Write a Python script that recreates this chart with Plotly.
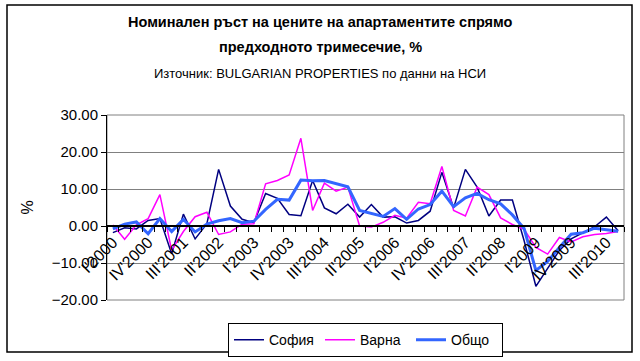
import plotly.graph_objects as go

quarters = [
    "I'2000", "II'2000", "III'2000", "IV'2000",
    "I'2001", "II'2001", "III'2001", "IV'2001",
    "I'2002", "II'2002", "III'2002", "IV'2002",
    "I'2003", "II'2003", "III'2003", "IV'2003",
    "I'2004", "II'2004", "III'2004", "IV'2004",
    "I'2005", "II'2005", "III'2005", "IV'2005",
    "I'2006", "II'2006", "III'2006", "IV'2006",
    "I'2007", "II'2007", "III'2007", "IV'2007",
    "I'2008", "II'2008", "III'2008", "IV'2008",
    "I'2009", "II'2009", "III'2009", "IV'2009",
    "I'2010", "II'2010", "III'2010", "IV'2010",
]
tick_labels = ["I'2000", "IV'2000", "III'2001", "II'2002", "I'2003", "IV'2003",
               "III'2004", "II'2005", "I'2006", "IV'2006", "III'2007", "II'2008",
               "I'2009", "IV'2009", "III'2010"]

sofia = [-1.8, -0.5, -0.8, 1.5, 2.0, -7.5, 3.2, -3.5, 0.6, 15.3, 5.4, 1.8, 0.9,
         8.8, 7.5, 3.1, 2.8, 12.3, 4.9, 3.3, 5.9, 2.4, 5.8, 2.4, 2.5, 0.8, 1.5,
         4.0, 14.5, 4.9, 15.3, 10.5, 2.7, 7.0, 7.0, -4.0, -16.3, -11.5, -6.6,
         -3.5, -1.8, -0.2, 2.4, -1.3]
varna = [0.3, -3.6, 0.3, 2.0, 8.5, -6.5, -1.5, 2.5, 3.7, -2.3, -1.6, 0.5, 0.6,
         11.4, 12.3, 13.8, 23.7, 4.2, 11.6, 9.4, 10.5, 0.0, -0.3, 1.0, 2.9, 2.1,
         6.4, 6.0, 16.1, 4.2, 2.7, 10.5, 8.5, 2.2, 0.4, -0.9, -5.8, -7.6, -3.1,
         -4.3, -2.9, -2.3, -2.0, -1.5]
total = [-0.8, 0.5, 1.1, -2.1, 2.0, -1.5, 1.8, -1.6, 0.5, 1.4, 2.0, 0.9, 1.3,
         4.5, 7.2, 7.0, 12.4, 12.2, 12.3, 11.5, 10.6, 4.2, 3.3, 2.6, 4.7, 1.8,
         4.6, 5.8, 9.4, 5.2, 7.6, 8.8, 7.1, 6.0, 3.0, -0.7, -12.0, -9.6, -5.8,
         -2.2, -1.8, -0.6, -1.0, -1.4]

FONT = "Liberation Sans, Arial, sans-serif"

fig = go.Figure()
fig.add_trace(go.Scatter(x=quarters, y=sofia, name="София", mode="lines",
                         line=dict(color="#000080", width=1.5)))
fig.add_trace(go.Scatter(x=quarters, y=varna, name="Варна", mode="lines",
                         line=dict(color="#FF00FF", width=1.5)))
fig.add_trace(go.Scatter(x=quarters, y=total, name="Общо", mode="lines",
                         line=dict(color="#3366FF", width=3)))

ticktext = [q if q in tick_labels else "" for q in quarters]

L, R, T, B = 107, 16, 115, 61
W, H = 640, 361
pw, ph = W - L - R, H - T - B

fig.update_layout(
    width=W, height=H,
    margin=dict(l=L, r=R, t=T, b=B, autoexpand=False),
    paper_bgcolor="white", plot_bgcolor="white",
    font=dict(family=FONT, size=13, color="black"),
    showlegend=True,
    legend=dict(orientation="h", x=0.5, xanchor="center", y=-0.125, yanchor="top",
                bordercolor="black", borderwidth=1, bgcolor="white",
                font=dict(family=FONT, size=14), itemwidth=30, tracegroupgap=0,
                entrywidth=46),
    xaxis=dict(
        type="category", categoryorder="array", categoryarray=quarters,
        tickmode="array", tickvals=quarters, ticktext=ticktext,
        tickangle=-45, tickfont=dict(family=FONT, size=16),
        ticks="outside", tickson="boundaries", ticklen=5, tickcolor="black",
        showline=True, linecolor="black", linewidth=1.5,
        showgrid=False, zeroline=False, automargin=False,
        anchor="free", position=0.4,
        range=[-0.5, len(quarters) - 0.5],
    ),
    yaxis=dict(
        range=[-20, 30], dtick=10, tick0=0, tickformat=".2f",
        tickfont=dict(family=FONT, size=15),
        ticks="outside", ticklen=5, tickcolor="black",
        showline=True, linecolor="black", linewidth=1,
        showgrid=True, gridcolor="#808080", gridwidth=1,
        zeroline=False, automargin=False,
        title=dict(text="%", font=dict(family=FONT, size=16), standoff=14),
        domain=[0, 1],
    ),
    shapes=[
        dict(type="rect", xref="paper", yref="paper", x0=0, x1=1, y0=0, y1=1,
             line=dict(color="#808080", width=1), layer="below"),
        dict(type="rect", xref="paper", yref="paper",
             x0=(7 - L) / pw, x1=(632 - L) / pw,
             y0=(H - B - 352) / ph, y1=(H - B - 5) / ph,
             line=dict(color="black", width=1.5)),
    ],
    annotations=[
        dict(text="<b>Номинален ръст на цените на апартаментите спрямо</b>",
             xref="paper", yref="paper", x=(320 - L) / pw, y=(H - B - 22) / ph,
             xanchor="center", yanchor="middle", showarrow=False,
             font=dict(family=FONT, size=14.5)),
        dict(text="<b>предходното тримесечие, %</b>",
             xref="paper", yref="paper", x=(320 - L) / pw, y=(H - B - 47) / ph,
             xanchor="center", yanchor="middle", showarrow=False,
             font=dict(family=FONT, size=14.5)),
        dict(text="Източник: BULGARIAN PROPERTIES по данни на НСИ",
             xref="paper", yref="paper", x=(320 - L) / pw, y=(H - B - 73) / ph,
             xanchor="center", yanchor="middle", showarrow=False,
             font=dict(family=FONT, size=13)),
    ],
)

fig.write_html("out.html", config={"displayModeBar": False},
               post_script="document.body.style.margin='0';document.body.style.overflow='hidden';")
